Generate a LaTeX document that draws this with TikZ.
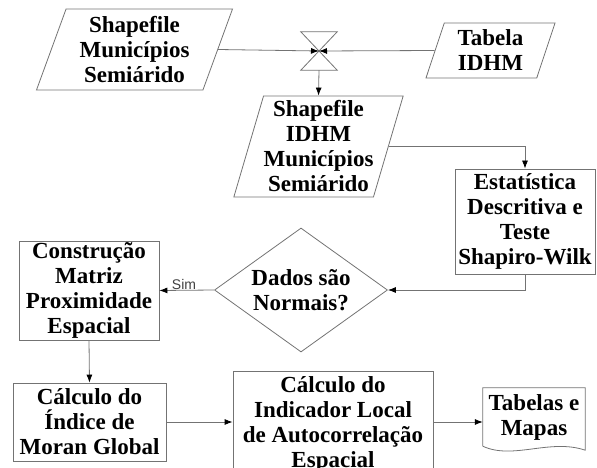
\documentclass[tikz,border=0pt]{standalone}
\usepackage{fontspec}
\setmainfont{Liberation Serif}
\newfontfamily\simfont{Liberation Sans}
\usetikzlibrary{shapes.geometric,arrows.meta}

\tikzset{
  linha/.style={draw=black!55, line width=0.8pt},
  seta/.style={draw=black!55, line width=0.8pt, -{Latex[length=8pt,width=6pt,black]}},
  entrada/.style={trapezium, linha, trapezium stretches body},
  processo/.style={rectangle, linha},
  decisao/.style={diamond, linha, aspect=1.4},
}

\begin{document}
\begin{tikzpicture}[x=1pt, y=-1pt,
    every node/.style={font=\fontsize{23}{25}\selectfont\bfseries, align=center, inner sep=0pt}]
  \useasboundingbox (0,0) rectangle (597,468);
  \clip (0,0) rectangle (597,468);

  % entradas
  \node[entrada, trapezium left angle=66, trapezium right angle=114,
        minimum width=196pt, minimum height=81pt] (shpmun) at (134.5,49.5)
        {Shapefile\\Municípios\\Semiárido};
  \node[minimum width=36pt, minimum height=38pt] (juncao) at (319,51) {};
  \draw[linha] (juncao.north west) -- (juncao.north east)
    -- (juncao.south west) -- (juncao.south east) -- cycle;
  \node[entrada, trapezium left angle=66, trapezium right angle=114,
        minimum width=129pt, minimum height=55pt] (tabidhm) at (490.5,50.5)
        {Tabela\\IDHM};
  \node[entrada, trapezium left angle=72, trapezium right angle=108,
        minimum width=167pt, minimum height=101pt] (shpidhm) at (318.5,146.5)
        {Shapefile\\IDHM\\Municípios\\Semiárido};

  % processos
  \node[processo, minimum width=140pt, minimum height=105pt] (estat) at (525,221.5)
        {Estatística\\Descritiva e\\Teste\\Shapiro-Wilk};
  \node[decisao, minimum width=173pt, minimum height=124pt] (normal) at (301,290)
        {Dados são\\Normais?};
  \node[processo, minimum width=140pt, minimum height=99pt] (matriz) at (89,290.5)
        {Construção\\Matriz\\Proximidade\\Espacial};
  \node[processo, minimum width=153pt, minimum height=78pt] (global) at (89.5,422)
        {Cálculo do\\Índice de\\Moran Global};
  \node[processo, minimum width=200pt, minimum height=106pt] (local) at (333,424)
        {Cálculo do\\Indicador Local\\de Autocorrelação\\Espacial};

  % saida
  \node[minimum width=102pt, minimum height=58pt] (saida) at (534,417) {Tabelas e\\Mapas};
  \draw[linha] (saida.south west) -- (saida.north west) -- (saida.north east)
    -- ([yshift=-4pt]saida.south east)
    .. controls +(-35,-12) and +(30,14) .. (saida.south west);

  % conexoes
  \draw[seta] (shpmun.east) -- (juncao.center);
  \draw[seta] (tabidhm.west) -- (juncao.center);
  \draw[seta] (juncao.south) -- (shpidhm.north);
  \draw[seta] (shpidhm.east) -| (estat.north);
  \draw[seta] (estat.south) |- (normal.east);
  \draw[seta] (normal.west) -- node[above, font=\simfont\fontsize{14}{16}\selectfont,
        text=black!75, pos=0.55] {Sim} (matriz.east);
  \draw[seta] (matriz.south) -- (global.north);
  \draw[seta] (global.east) -- (global.east -| local.west);
  \draw[seta] (local.east |- global.east) -- (saida.west |- global.east);
\end{tikzpicture}
\end{document}
